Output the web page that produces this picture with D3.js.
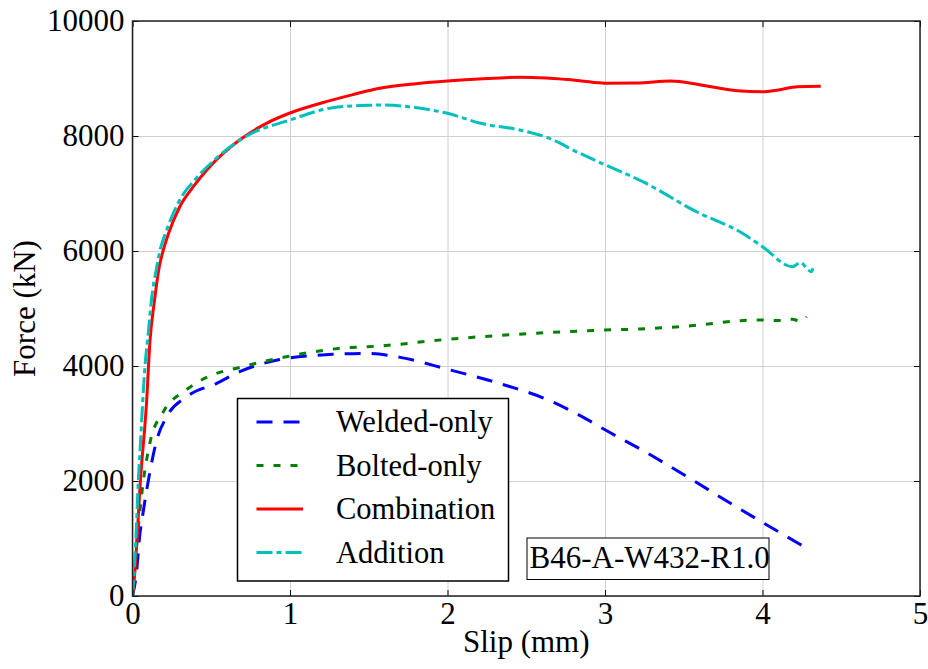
<!DOCTYPE html>
<html>
<head>
<meta charset="utf-8">
<script src="https://cdn.jsdelivr.net/npm/d3@7"></script>
<style>
  body { margin: 0; background: #fff; }
  svg { display: block; }
  text { font-family: "Liberation Serif", "DejaVu Serif", serif; fill: #000; }
</style>
</head>
<body>
<svg class="chart"></svg>
<script>
// ----- Data -----
let weldedSlip  = [0, 0.027, 0.043, 0.07, 0.10, 0.154, 0.217, 0.344, 0.535, 0.68, 0.92, 1.27, 1.49, 1.7, 2.0, 2.35, 2.63, 2.88, 3.0, 3.26, 3.56, 3.81, 4.0, 4.15, 4.30]
let weldedForce = [0, 452, 974, 1500, 2000, 2713, 3118, 3466, 3699, 3901, 4104, 4203, 4220, 4150, 3943, 3680, 3420, 3080, 2890, 2500, 2010, 1590, 1280, 1040, 800]

let boltedSlip  = [0, 0.03, 0.069, 0.11, 0.196, 0.34, 0.48, 0.70, 1.0, 1.32, 1.57, 2.0, 2.63, 3.0, 3.22, 3.6, 3.86, 3.97, 4.1, 4.19, 4.24, 4.28]
let boltedForce = [0, 1000, 2000, 2655, 3205, 3583, 3814, 3988, 4174, 4308, 4348, 4464, 4580, 4626, 4643, 4713, 4788, 4800, 4790, 4812, 4780, 4858]

let combSlip  = [0, 0.016, 0.05, 0.09, 0.11, 0.14, 0.17, 0.194, 0.228, 0.30, 0.386, 0.49, 0.68, 0.85, 1.0, 1.2, 1.4, 1.57, 1.8, 2.0, 2.2, 2.46, 2.84, 3.0, 3.2, 3.42, 3.6, 3.84, 4.0, 4.1, 4.22, 4.37]
let combForce = [0, 450, 2000, 3400, 4400, 5148, 5727, 6000, 6300, 6770, 7118, 7466, 7930, 8220, 8400, 8574, 8720, 8830, 8910, 8957, 8990, 9020, 8962, 8917, 8920, 8957, 8892, 8788, 8770, 8800, 8857, 8864]

let addSlip  = [0, 0.02, 0.037, 0.048, 0.079, 0.10, 0.12, 0.154, 0.175, 0.21, 0.30, 0.40, 0.52, 0.725, 1.0, 1.27, 1.49, 1.57, 1.83, 2.0, 2.21, 2.46, 2.63, 2.84, 3.0, 3.24, 3.58, 3.87, 4.0, 4.19, 4.24, 4.31, 4.32]
let addForce = [0, 900, 2000, 2539, 3988, 4573, 5148, 5727, 6017, 6313, 6887, 7250, 7583, 8000, 8278, 8492, 8534, 8539, 8482, 8395, 8221, 8104, 7977, 7699, 7500, 7205, 6684, 6313, 6075, 5727, 5797, 5640, 5700]

let seriesNames = ['Welded-only', 'Bolted-only', 'Combination', 'Addition']
let xTicks = [0, 1, 2, 3, 4, 5]
let yTicks = [0, 2000, 4000, 6000, 8000, 10000]
let specimenLabel = 'B46-A-W432-R1.0'

// ----- SVG -----
let svgWidth = 928
let svgHeight = 669
let svg = d3.select('.chart')
            .attr('width', svgWidth)
            .attr('height', svgHeight)

let margin = {left: 132.5, right: 8, top: 21, bottom: 73}
let plotW = svgWidth - margin.left - margin.right
let plotH = svgHeight - margin.top - margin.bottom
let fontSize = 31
let legendFont = 30.5

let x = d3.scaleLinear().domain([0, 5]).range([margin.left, margin.left + plotW])
let y = d3.scaleLinear().domain([0, 10000]).range([margin.top + plotH, margin.top])

// grid
svg.append('g')
   .attr('transform', 'translate(0,' + (margin.top + plotH) + ')')
   .call(d3.axisBottom(x).tickValues(xTicks).tickSize(-plotH).tickFormat(''))
   .call(g => g.select('.domain').remove())
   .selectAll('line').attr('stroke', '#d0d0d0').attr('stroke-width', 1)

svg.append('g')
   .attr('transform', 'translate(' + margin.left + ',0)')
   .call(d3.axisLeft(y).tickValues(yTicks).tickSize(-plotW).tickFormat(''))
   .call(g => g.select('.domain').remove())
   .selectAll('line').attr('stroke', '#d0d0d0').attr('stroke-width', 1)

// series
let series = [
  {name: seriesNames[0], xs: weldedSlip, ys: weldedForce, color: '#0000ff', dash: '16,11'},
  {name: seriesNames[1], xs: boltedSlip, ys: boltedForce, color: '#008000', dash: '7,10'},
  {name: seriesNames[2], xs: combSlip,   ys: combForce,   color: '#ff0000', dash: null},
  {name: seriesNames[3], xs: addSlip,    ys: addForce,    color: '#00bfbf', dash: '16,4,5,4'}
]

let line = d3.line()
             .x(d => x(d[0]))
             .y(d => y(d[1]))
             .curve(d3.curveMonotoneX)

svg.append('clipPath').attr('id', 'plotclip')
   .append('rect')
   .attr('x', margin.left).attr('y', margin.top)
   .attr('width', plotW).attr('height', plotH)

svg.append('g')
   .attr('clip-path', 'url(#plotclip)')
   .selectAll('path')
   .data(series)
   .enter()
   .append('path')
   .attr('d', s => line(d3.zip(s.xs, s.ys)))
   .attr('fill', 'none')
   .attr('stroke', s => s.color)
   .attr('stroke-width', 3)
   .attr('stroke-dasharray', s => s.dash)

// axes, ticks pointing inward on all four sides
function styleAxis(g) {
  g.select('.domain').remove()
  g.selectAll('line').attr('stroke', '#000').attr('stroke-width', 1)
  g.selectAll('text').attr('font-size', fontSize).attr('fill', '#000')
}

svg.append('g')
   .attr('transform', 'translate(0,' + (margin.top + plotH) + ')')
   .call(d3.axisBottom(x).tickValues(xTicks).tickSize(-6).tickPadding(5.5).tickFormat(d3.format('d')))
   .call(styleAxis)

svg.append('g')
   .attr('transform', 'translate(0,' + margin.top + ')')
   .call(d3.axisTop(x).tickValues(xTicks).tickSize(-6).tickFormat(''))
   .call(styleAxis)

svg.append('g')
   .attr('transform', 'translate(' + margin.left + ',0)')
   .call(d3.axisLeft(y).tickValues(yTicks).tickSize(-6).tickPadding(8).tickFormat(d3.format('d')))
   .call(styleAxis)

svg.append('g')
   .attr('transform', 'translate(' + (margin.left + plotW) + ',0)')
   .call(d3.axisRight(y).tickValues(yTicks).tickSize(-6).tickFormat(''))
   .call(styleAxis)

// frame
svg.append('rect')
   .attr('x', margin.left).attr('y', margin.top)
   .attr('width', plotW).attr('height', plotH)
   .attr('fill', 'none')
   .attr('stroke', '#222')
   .attr('stroke-width', 1.5)

// axis titles
svg.append('text')
   .attr('x', margin.left + plotW / 2)
   .attr('y', 652)
   .attr('text-anchor', 'middle')
   .attr('font-size', fontSize)
   .text('Slip (mm)')

svg.append('text')
   .attr('transform', 'translate(35,' + (margin.top + plotH / 2) + ') rotate(-90)')
   .attr('text-anchor', 'middle')
   .attr('font-size', fontSize)
   .text('Force (kN)')

// legend
let legendX = 237.5
let legendY = 398.5
let legendW = 271
let legendH = 182.5
let rowGap = 43.5

svg.append('rect')
   .attr('x', legendX).attr('y', legendY)
   .attr('width', legendW).attr('height', legendH)
   .attr('fill', '#fff')
   .attr('stroke', '#000')
   .attr('stroke-width', 1.5)

let legendRows = svg.selectAll('.legend-row')
                    .data(series)
                    .enter()
                    .append('g')
                    .attr('class', 'legend-row')
                    .attr('transform', (d, i) => 'translate(0,' + (legendY + 23.5 + i * rowGap) + ')')

legendRows.append('line')
          .attr('x1', 256.5).attr('x2', 303)
          .attr('y1', 0).attr('y2', 0)
          .attr('stroke', d => d.color)
          .attr('stroke-width', 3)
          .attr('stroke-dasharray', d => d.dash)

legendRows.append('text')
          .attr('x', 336)
          .attr('y', 10)
          .attr('font-size', legendFont)
          .text(d => d.name)

// specimen label
svg.append('rect')
   .attr('x', 527).attr('y', 538)
   .attr('width', 242).attr('height', 41.5)
   .attr('fill', '#fff')
   .attr('stroke', '#000')
   .attr('stroke-width', 1)

svg.append('text')
   .attr('x', 529.5)
   .attr('y', 568)
   .attr('font-size', fontSize)
   .text(specimenLabel)
</script>
</body>
</html>
